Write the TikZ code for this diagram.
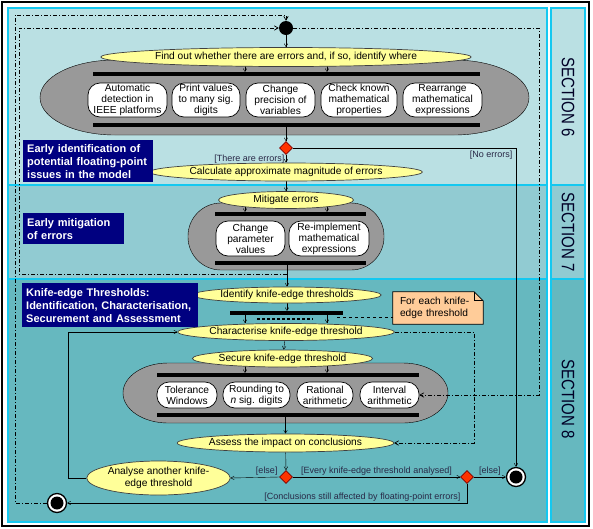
\documentclass[tikz,border=0pt]{standalone}
\usepackage{fontspec}
\setmainfont{Liberation Sans}
\usepackage{tikz}
\usetikzlibrary{arrows,shapes.geometric,calc}

\definecolor{lanesix}{RGB}{186,224,227}
\definecolor{laneseven}{RGB}{145,203,210}
\definecolor{laneeight}{RGB}{102,184,191}
\definecolor{laneline}{RGB}{20,200,240}
\definecolor{actfill}{RGB}{255,255,153}
\definecolor{grpfill}{RGB}{153,153,153}
\definecolor{navybox}{RGB}{0,0,128}
\definecolor{notefill}{RGB}{255,204,153}
\definecolor{decfill}{RGB}{255,51,0}
\definecolor{guardtext}{RGB}{40,40,70}

\pgfdeclarelayer{lane}
\pgfdeclarelayer{group}
\pgfdeclarelayer{wire}
\pgfsetlayers{lane,group,wire,main}

\begin{document}
\begin{tikzpicture}[x=1pt,y=-1pt,>=angle 60,line width=0.8pt]
  \tikzstyle{act}=[ellipse,draw=black!75,line width=0.7pt,fill=actfill,inner sep=0pt,align=center,font=\fontsize{10.2}{11.5}\selectfont]
  \tikzstyle{pill}=[rectangle,rounded corners=12pt,draw=black,line width=0.7pt,fill=white,inner sep=0pt,minimum height=34pt,align=center,font=\fontsize{10.2}{11}\selectfont]
  \tikzstyle{bar}=[rectangle,fill=black,inner sep=0pt,minimum height=3.5pt]
  \tikzstyle{dec}=[diamond,draw=red!50!black,line width=0.6pt,fill=decfill,inner sep=0pt,minimum size=13pt]
  \tikzstyle{initnode}=[circle,fill=black,inner sep=0pt,minimum size=14pt]
  \tikzstyle{finnode}=[circle,draw=black,line width=1.3pt,fill=white,inner sep=0pt,minimum size=19pt]
  \tikzstyle{guard}=[font=\fontsize{9}{10}\selectfont,text=guardtext,inner sep=1.5pt]
  \tikzstyle{title}=[fill=navybox,text=white,anchor=north west,inner sep=4pt,align=left,font=\bfseries\fontsize{11}{13}\selectfont]
  \tikzstyle{notebox}=[text width=76pt,inner xsep=7pt,inner ysep=0pt,minimum height=32pt,align=left,font=\fontsize{10.2}{11.5}\selectfont]
  \tikzstyle{lanebox}=[draw=laneline,line width=1.1pt]
  \tikzstyle{dd}=[line width=0.7pt,dash pattern=on 4pt off 2pt on 1pt off 2pt]

  \useasboundingbox (0,0) rectangle (593,528);

  \begin{pgfonlayer}{lane}
    \fill[white] (0,0) rectangle (593,528);
    \draw[line width=1.6pt] (2,2) rectangle (589,526);
    \draw[lanebox,fill=lanesix]   (8,8)   rectangle (547,185);
    \draw[lanebox,fill=laneseven] (8,185) rectangle (547,279);
    \draw[lanebox,fill=laneeight] (8,279) rectangle (547,522);
    \draw[lanebox,fill=lanesix]   (551,8)   rectangle (585,185);
    \draw[lanebox,fill=laneseven] (551,185) rectangle (585,279);
    \draw[lanebox,fill=laneeight] (551,279) rectangle (585,522);
  \end{pgfonlayer}

  \node[rotate=-90,yscale=1.2,font=\fontsize{15}{15}\selectfont,text=black!85!blue] (s6) at (568,97) {SECTION 6};
  \node[rotate=-90,yscale=1.2,font=\fontsize{15}{15}\selectfont,text=black!85!blue] (s7) at (568,232) {SECTION 7};
  \node[rotate=-90,yscale=1.2,font=\fontsize{15}{15}\selectfont,text=black!85!blue] (s8) at (568,399) {SECTION 8};

  % section 6
  \node[initnode] (init) at (286,28) {};
  \node[act,minimum width=337pt,minimum height=19pt] (find) at (286,57) {Find out whether there are errors and, if so, identify where};
  \node[bar,minimum width=387pt] (f1) at (286.5,74) {};
  \node[bar,minimum width=387pt] (j1) at (286.5,125) {};
  \node[pill,minimum width=79pt] (auto)  at (127.5,100) {Automatic\\detection in\\IEEE platforms};
  \node[pill,minimum width=68pt] (print) at (206,100)   {Print values\\to many sig.\\digits};
  \node[pill,minimum width=69pt] (prec)  at (280.5,100) {Change\\precision of\\variables};
  \node[pill,minimum width=76pt] (check) at (359,100)   {Check known\\mathematical\\properties};
  \node[pill,minimum width=79pt] (rearr) at (442.5,100) {Rearrange\\mathematical\\expressions};
  \node[dec] (d1) at (286,148) {};
  \node[act,minimum width=238pt,minimum height=18pt] (calc) at (286,172) {Calculate approximate magnitude of errors};
  \node[title,text width=122pt,minimum height=40pt] (t6) at (23,140) {Early identification of\\potential floating-point\\issues in the model};

  % section 7
  \node[act,minimum width=135pt,minimum height=17pt] (mit) at (286,200) {Mitigate errors};
  \node[bar,minimum width=151pt] (f2) at (290.5,214) {};
  \node[bar,minimum width=151pt] (j2) at (290.5,263) {};
  \node[pill,minimum width=69pt,minimum height=35pt] (param) at (250.5,238.5) {Change\\parameter\\values};
  \node[pill,minimum width=80pt,minimum height=35pt] (reimp) at (329,238.5)   {Re-implement\\mathematical\\expressions};
  \node[title,text width=93pt,minimum height=31pt] (t7) at (23,213) {Early mitigation\\of errors};

  % section 8
  \node[act,minimum width=170pt,minimum height=16pt] (ident) at (287,295) {Identify knife-edge thresholds};
  \node[bar,minimum width=113pt] (f3) at (286.5,313) {};
  \node[notebox] (note) at (438,308) {For each knife-\\edge threshold};
  \node[act,minimum width=186pt,minimum height=17pt] (char) at (286,332) {Characterise knife-edge threshold};
  \node[act,minimum width=180pt,minimum height=17pt] (sec) at (282.5,358.5) {Secure knife-edge threshold};
  \node[bar,minimum width=262pt] (f4) at (288,375) {};
  \node[bar,minimum width=262pt] (j4) at (288,415) {};
  \node[pill,minimum width=60pt,minimum height=26pt] (tol)   at (187,395)   {Tolerance\\Windows};
  \node[pill,minimum width=67pt,minimum height=26pt] (round) at (256.5,395) {Rounding to\\\emph{n} sig. digits};
  \node[pill,minimum width=56pt,minimum height=26pt] (rat)   at (325,395)   {Rational\\arithmetic};
  \node[pill,minimum width=59pt,minimum height=26pt] (intv)  at (389.5,395) {Interval\\arithmetic};
  \node[act,minimum width=183pt,minimum height=18pt] (assess) at (285.5,443) {Assess the impact on conclusions};
  \node[dec] (d2) at (286,477) {};
  \node[act,minimum width=141pt,minimum height=34pt] (another) at (158.5,478) {Analyse another knife-\\edge threshold};
  \node[dec] (d3) at (467,477) {};
  \node[finnode] (fin2) at (516,477) {};
  \node[finnode] (fin1) at (57,503) {};
  \fill (fin1) circle (6.5);
  \fill (fin2) circle (6.5);
  \node[title,text width=168pt,minimum height=44pt] (t8) at (22,283) {Knife-edge Thresholds:\\Identification, Characterisation,\\Securement and Assessment};

  \coordinate (xl) at (245,0);
  \coordinate (xr) at (327,0);
  \coordinate (lp) at (68,0);
  \coordinate (c15) at (15,15);
  \coordinate (c19) at (19,274);
  \coordinate (rp) at (539,0);
  \coordinate (rq) at (474,0);
  \coordinate (dl) at (257,319);
  \coordinate (dr) at (313,319);
  \coordinate (nt) at ($(f3.south east)+(-6,2)$);

  \begin{pgfonlayer}{group}
    \draw[fill=grpfill] (115,60) -- (454,60) arc[start angle=-90,end angle=90,x radius=75,y radius=37.5]
      -- (115,135) arc[start angle=90,end angle=270,x radius=75,y radius=37.5] -- cycle;
    \draw[fill=grpfill,rounded corners=33pt] (188,203) rectangle (384,270);
    \draw[fill=grpfill] (168,363) -- (403,363) arc[start angle=-90,end angle=90,x radius=45,y radius=30]
      -- (168,423) arc[start angle=90,end angle=270,x radius=45,y radius=30] -- cycle;
    % note with folded corner
    \draw[fill=notefill,line width=0.7pt] (note.north west) -- ($(note.north east)+(-9,0)$) -- ($(note.north east)+(0,9)$)
      -- (note.south east) -- (note.south west) -- cycle;
    \draw[line width=0.7pt] ($(note.north east)+(-9,0)$) -- ($(note.north east)+(-9,9)$) -- ($(note.north east)+(0,9)$);
  \end{pgfonlayer}

  \begin{pgfonlayer}{wire}
    \path[->] (init) edge (find.north)
          (find.center -| xl) edge (f1.north -| xl)
          (find.center -| xr) edge (f1.north -| xr)
          (j1.south -| d1) edge (d1.north)
          (d1) edge node[guard,left] {[There are errors]} (calc.north)
          (calc) edge (mit)
          (mit.center -| xl) edge (f2.north -| xl)
          (mit.center -| xr) edge (f2.north -| xr)
          (j2.south -| ident) edge (ident.north)
          (ident) edge (f3.north -| ident)
          (f3.south -| xl) edge (char.north -| xl)
          (f3.south -| xr) edge (char.north -| xr)
          (char) edge (sec)
          (sec.center -| xl) edge (f4.north -| xl)
          (sec.center -| xr) edge (f4.north -| xr)
          (j4.south -| assess) edge (assess.north)
          (assess) edge (d2.north);
    \draw[line width=2pt,dash pattern=on 2.5pt off 2.5pt] (dl) -- (dr);
    \draw[dashed,line width=0.7pt] (nt) -- (nt -| note.west);

    \draw[->] (d1.east) -- (d1.east -| fin2) node[guard,anchor=north east,xshift=-2pt,yshift=-1pt] {[No errors]} -- (fin2.north);
    \draw[->] (d2.west) -- (another.east) node[guard,pos=0,anchor=south east] {[else]};
    \draw[->] (another.west) -- (another.west -| lp) |- (char.west);
    \draw[->] (d2.east) -- node[guard,above] {[Every knife-edge threshold analysed]} (d3.west);
    \draw[->] (d3.east) -- node[guard,above] {[else]} (fin2.west);
    \draw[->] (d3.south) -- (d3.south |- fin1) node[guard,anchor=south east,xshift=-5pt] {[Conclusions still affected by floating-point errors]} -- (fin1.east);

    % dash-dot loops
    \draw[dd,->] (fin1.west) -| (c15) -| (init.north);
    \draw[dd,->] (c19 -| ident) -- (c19) |- (init.west);
    \draw[dd,->] (init.east) -- (init.east -| rp) |- (intv.east);
    \draw[dd,->] (char.east) -- (char.east -| rq) |- (assess.east);
  \end{pgfonlayer}
\end{tikzpicture}
\end{document}
